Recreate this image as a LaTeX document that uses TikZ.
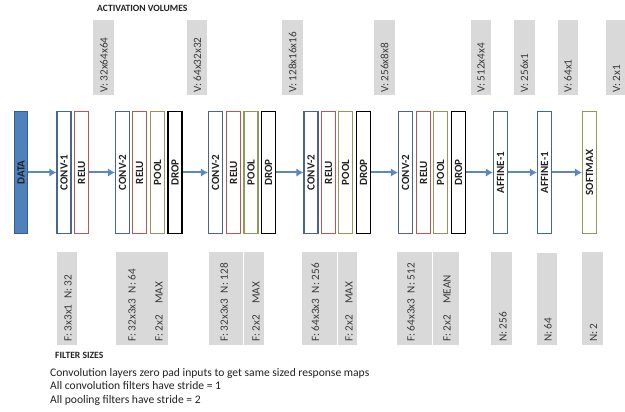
\documentclass[tikz,border=0pt]{standalone}
\usepackage{fontspec}
\setmainfont{Carlito}
\usetikzlibrary{arrows.meta}
\definecolor{dataFill}{HTML}{4F81BD}
\definecolor{dataDraw}{HTML}{385D8A}
\definecolor{convDraw}{HTML}{46668C}
\definecolor{reluDraw}{HTML}{BE5552}
\definecolor{poolDraw}{HTML}{8C9B5A}
\definecolor{flowCol}{HTML}{5B88C2}
\definecolor{barGray}{HTML}{D9D9D9}
\definecolor{barText}{HTML}{3A3A3A}
\definecolor{boxText}{HTML}{222222}
\tikzset{
  layer/.style={rotate=90, draw, fill=white, line width=1.1pt, inner sep=0pt,
    minimum width=122pt, minimum height=14pt, text=boxText,
    font=\fontsize{11}{12}\selectfont\bfseries},
  convbox/.style={layer, draw=convDraw},
  relubox/.style={layer, draw=reluDraw},
  poolbox/.style={layer, draw=poolDraw},
  dropbox/.style={layer, draw=black},
  databox/.style={layer, draw=dataDraw, fill=dataFill, minimum height=13pt},
  flow/.style={draw=flowCol, line width=2pt, -{Latex[length=7pt,width=8.5pt]}},
  bar/.style={fill=barGray},
  bartext/.style={rotate=90, anchor=west, inner sep=0pt, text=barText,
    font=\fontsize{11.2}{12}\selectfont},
  heading/.style={inner sep=0pt, text=boxText, font=\fontsize{9.6}{11}\selectfont\bfseries},
  notes/.style={inner sep=0pt, text=boxText, align=left,
    font=\fontsize{11.6}{13.6}\selectfont}
}
\begin{document}
\begin{tikzpicture}[x=1pt,y=-1pt]
\useasboundingbox (0,0) rectangle (625,412);

% ---- headings
\node[heading, anchor=west] (acthead) at (97,8) {ACTIVATION VOLUMES};
\node[heading, anchor=west] (filthead) at (55,355) {FILTER SIZES};

% ---- activation volume bars
\fill[bar] (93,20) rectangle (114,95);
\node[bartext] (v1) at (104,93) {V: 32x64x64};
\fill[bar] (187,20) rectangle (207,95);
\node[bartext] (v2) at (197.5,93) {V: 64x32x32};
\fill[bar] (282,20) rectangle (303,95);
\node[bartext] (v3) at (292.5,93) {V: 128x16x16};
\fill[bar] (374,20) rectangle (395,95);
\node[bartext] (v4) at (384.5,93) {V: 256x8x8};
\fill[bar] (471,20) rectangle (491,95);
\node[bartext] (v5) at (481,93) {V: 512x4x4};
\fill[bar] (514,20) rectangle (535,95);
\node[bartext] (v6) at (524.5,93) {V: 256x1};
\fill[bar] (558,20) rectangle (578,95);
\node[bartext] (v7) at (568,93) {V: 64x1};
\fill[bar] (606,20) rectangle (627,95);
\node[bartext] (v8) at (616.5,93) {V: 2x1};

% ---- layers
\node[databox] (data) at (21,172.5) {DATA};
\node[convbox] (c1) at (64,172.5) {CONV-1};
\node[relubox] (r1) at (81.5,172.5) {RELU};

\node[convbox] (c2) at (122.5,172.5) {CONV-2};
\node[relubox] (r2) at (139.5,172.5) {RELU};
\node[poolbox] (p2) at (157.5,172.5) {POOL};
\node[dropbox] (d2) at (175,172.5) {DROP};

\node[convbox] (c3) at (215.5,172.5) {CONV-2};
\node[relubox] (r3) at (233.5,172.5) {RELU};
\node[poolbox] (p3) at (251,172.5) {POOL};
\node[dropbox] (d3) at (268.5,172.5) {DROP};

\node[convbox] (c4) at (311,172.5) {CONV-2};
\node[relubox] (r4) at (328.5,172.5) {RELU};
\node[poolbox] (p4) at (345.5,172.5) {POOL};
\node[dropbox] (d4) at (363.5,172.5) {DROP};

\node[convbox] (c5) at (405.5,172.5) {CONV-2};
\node[relubox] (r5) at (423.5,172.5) {RELU};
\node[poolbox] (p5) at (440.5,172.5) {POOL};
\node[dropbox] (d5) at (458.5,172.5) {DROP};

\node[convbox] (a1) at (500.5,172.5) {AFFINE-1};
\node[convbox] (a2) at (544.5,172.5) {AFFINE-1};
\node[poolbox] (sm) at (589.5,172.5) {SOFTMAX};

% ---- connectors
\draw[flow] (data) -- (c1);
\draw[flow] (r1) -- (c2);
\draw[flow] (d2) -- (c3);
\draw[flow] (d3) -- (c4);
\draw[flow] (d4) -- (c5);
\draw[flow] (d5) -- (a1);
\draw[flow] (a1) -- (a2);
\draw[flow] (a2) -- (sm);

% ---- filter size bars
\fill[bar] (57,252) rectangle (77,345);
\node[bartext] (f1) at (68,342) {F: 3x3x1\enspace N: 32};

\fill[bar] (116,252) rectangle (168,345);
\node[bartext] (f2) at (132,342) {F: 32x3x3\enspace N: 64};
\node[bartext] (g2) at (159,342) {F: 2x2\hspace{11pt}MAX};

\fill[bar] (209,252) rectangle (242.5,345);
\fill[bar] (243.5,252) rectangle (264,345);
\node[bartext] (f3) at (224,342) {F: 32x3x3\enspace N: 128};
\node[bartext] (g3) at (256,342) {F: 2x2\hspace{11pt}MAX};

\fill[bar] (302,252) rectangle (336.5,345);
\fill[bar] (337.5,252) rectangle (357,345);
\node[bartext] (f4) at (315.5,342) {F: 64x3x3\enspace N: 256};
\node[bartext] (g4) at (349,342) {F: 2x2\hspace{11pt}MAX};

\fill[bar] (397,252) rectangle (431.5,345);
\fill[bar] (432.5,252) rectangle (459,345);
\node[bartext] (f5) at (411,342) {F: 64x3x3\enspace N: 512};
\node[bartext] (g5) at (447,342) {F: 2x2\hspace{11pt}MEAN};

\fill[bar] (491,252) rectangle (512,345);
\node[bartext] (f6) at (503,342) {N: 256};
\fill[bar] (537,253) rectangle (557,345);
\node[bartext] (f7) at (548,342) {N: 64};
\fill[bar] (582,252) rectangle (603,345);
\node[bartext] (f8) at (593.5,342) {N: 2};

% ---- notes
\node[notes, anchor=north west] (notes) at (50,368)
  {Convolution layers zero pad inputs to get same sized response maps\\
   All convolution filters have stride = 1\\
   All pooling filters have stride = 2};
\end{tikzpicture}
\end{document}
